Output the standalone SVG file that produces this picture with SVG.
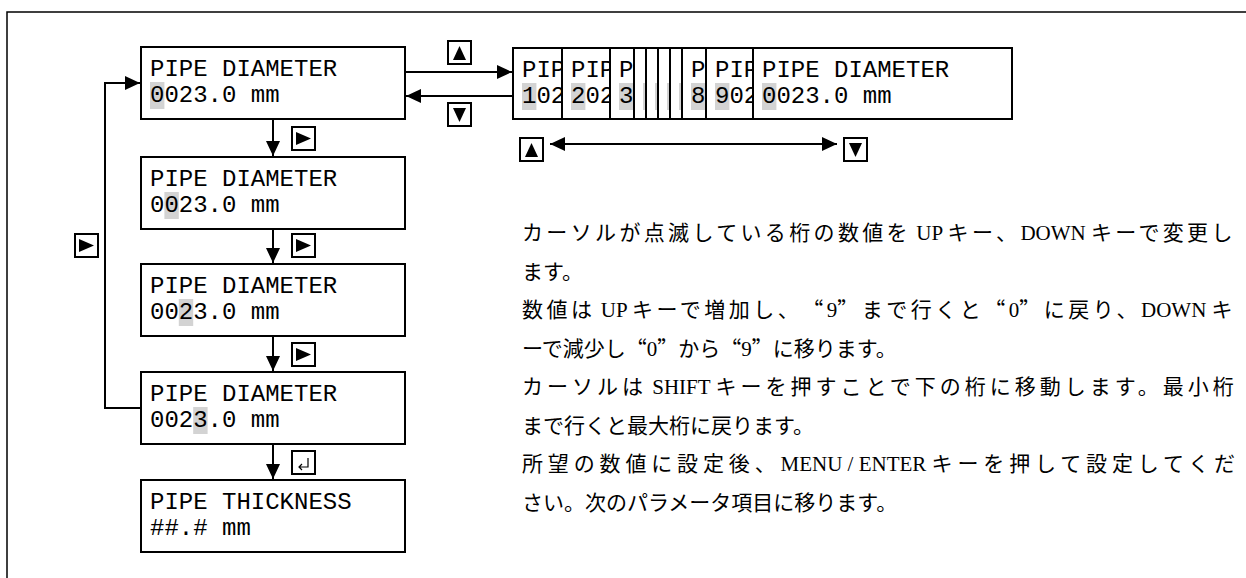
<svg xmlns="http://www.w3.org/2000/svg" width="1246" height="578" viewBox="0 0 1246 578">
<style>
.box{fill:#fff;stroke:#000;stroke-width:2}
.lcd{font-family:"Liberation Mono","Courier New",monospace;font-size:24px;fill:#000}
.hl{fill:#d3d3d3}
.conn{stroke:#000;stroke-width:2;fill:none}
.jp{font-family:"Liberation Serif","Noto Sans CJK JP",serif;font-size:21px;fill:#000}
.cj{font-family:"Noto Sans CJK JP","Liberation Serif",sans-serif;font-feature-settings:"fwid"}
.j1{letter-spacing:3.35px}
.j3{letter-spacing:3.5px}
.j5{letter-spacing:4.0px}
.j7{letter-spacing:4.85px}
.kb{fill:#fff;stroke:#000;stroke-width:2}
</style>
<defs>
<marker id="ah" viewBox="0 0 15 14" refX="15" refY="7" markerWidth="15" markerHeight="14" markerUnits="userSpaceOnUse" orient="auto-start-reverse"><path d="M0,0 L15,7 L0,14 z" fill="#000"/></marker>
<g id="kUp"><rect class="kb" x="1" y="1" width="23" height="23"/><path d="M12.5,6 L19,20 L6,20 z" fill="#000"/></g>
<g id="kDown"><rect class="kb" x="1" y="1" width="23" height="23"/><path d="M6,6 L19,6 L12.5,20 z" fill="#000"/></g>
<g id="kRight"><rect class="kb" x="1" y="1" width="23" height="23"/><path d="M5,6 L20,12.5 L5,19 z" fill="#000"/></g>
<g id="kEnter"><rect class="kb" x="1" y="1" width="23" height="23"/><path d="M17,8 V17 H8 M11,14 L8,17 L11,20" fill="none" stroke="#000" stroke-width="1.2"/></g>
</defs>
<rect x="7" y="12" width="1300" height="620" fill="none" stroke="#000" stroke-width="1.5"/>

<g id="connectors">
<path class="conn" d="M273,120 V156" marker-end="url(#ah)"/>
<path class="conn" d="M273,230 V263" marker-end="url(#ah)"/>
<path class="conn" d="M273,337 V371" marker-end="url(#ah)"/>
<path class="conn" d="M273,445 V479" marker-end="url(#ah)"/>
<path class="conn" d="M141,408 H105 V83 H140" marker-end="url(#ah)"/>
<path class="conn" d="M406,72 H512" marker-end="url(#ah)"/>
<path class="conn" d="M512,96 H406" marker-end="url(#ah)"/>
<path class="conn" d="M550,144 H837" marker-start="url(#ah)" marker-end="url(#ah)"/>
<use href="#kRight" x="291" y="126"/>
<use href="#kRight" x="291" y="233"/>
<use href="#kRight" x="291" y="342"/>
<use href="#kEnter" x="291" y="450"/>
<use href="#kRight" x="74" y="233"/>
<use href="#kUp" x="447" y="40"/>
<use href="#kDown" x="447" y="102"/>
<use href="#kUp" x="519" y="137"/>
<use href="#kDown" x="843" y="137"/>
</g>

<g id="node1">
<rect class="box" x="141" y="47" width="264" height="72"/>
<rect class="hl" x="150" y="82" width="14.4" height="27"/>
<text class="lcd" x="150" y="76">PIPE DIAMETER</text>
<text class="lcd" x="150" y="102">0023.0 mm</text>
</g>
<g id="node2">
<rect class="box" x="141" y="157" width="264" height="72"/>
<rect class="hl" x="164.4" y="192" width="14.4" height="27"/>
<text class="lcd" x="150" y="186">PIPE DIAMETER</text>
<text class="lcd" x="150" y="212">0023.0 mm</text>
</g>
<g id="node3">
<rect class="box" x="141" y="264" width="264" height="72"/>
<rect class="hl" x="178.8" y="299" width="14.4" height="27"/>
<text class="lcd" x="150" y="293">PIPE DIAMETER</text>
<text class="lcd" x="150" y="319">0023.0 mm</text>
</g>
<g id="node4">
<rect class="box" x="141" y="372" width="264" height="72"/>
<rect class="hl" x="193.2" y="407" width="14.4" height="27"/>
<text class="lcd" x="150" y="401">PIPE DIAMETER</text>
<text class="lcd" x="150" y="427">0023.0 mm</text>
</g>
<g id="node5">
<rect class="box" x="141" y="480" width="264" height="72"/>
<text class="lcd" x="150" y="509">PIPE THICKNESS</text>
<text class="lcd" x="150" y="535">##.# mm</text>
</g>

<g id="stack">
<g id="panel1"><rect class="box" x="513" y="48" width="499" height="71"/><rect class="hl" x="522" y="83" width="14.4" height="27"/><text class="lcd" x="522" y="77">PIP</text><text class="lcd" x="522" y="103">102</text></g>
<g id="panel2"><rect class="box" x="562" y="48" width="450" height="71"/><rect class="hl" x="571" y="83" width="14.4" height="27"/><text class="lcd" x="571" y="77">PIP</text><text class="lcd" x="571" y="103">202</text></g>
<g id="panel3"><rect class="box" x="610" y="48" width="402" height="71"/><rect class="hl" x="619" y="83" width="14.4" height="27"/><text class="lcd" x="619" y="77">P</text><text class="lcd" x="619" y="103">3</text></g>
<g id="panel4"><rect class="box" x="634" y="48" width="378" height="71"/><rect class="hl" x="643" y="83" width="14.4" height="27"/></g>
<g id="panel5"><rect class="box" x="646" y="48" width="366" height="71"/><rect class="hl" x="655" y="83" width="14.4" height="27"/></g>
<g id="panel6"><rect class="box" x="658" y="48" width="354" height="71"/><rect class="hl" x="667" y="83" width="14.4" height="27"/></g>
<g id="panel7"><rect class="box" x="670" y="48" width="342" height="71"/><rect class="hl" x="679" y="83" width="14.4" height="27"/></g>
<g id="panel8"><rect class="box" x="682" y="48" width="330" height="71"/><rect class="hl" x="691" y="83" width="14.4" height="27"/><text class="lcd" x="691" y="77">P</text><text class="lcd" x="691" y="103">8</text></g>
<g id="panel9"><rect class="box" x="706" y="48" width="306" height="71"/><rect class="hl" x="715" y="83" width="14.4" height="27"/><text class="lcd" x="715" y="77">PIP</text><text class="lcd" x="715" y="103">902</text></g>
<g id="panel10"><rect class="box" x="753" y="48" width="259" height="71"/><rect class="hl" x="762" y="83" width="14.4" height="27"/><text class="lcd" x="762" y="77">PIPE DIAMETER</text><text class="lcd" x="762" y="103">0023.0 mm</text></g>
</g>

<g id="description">
<text class="jp" x="522" y="240"><tspan class="cj j1">カーソルが点滅している桁の数値を</tspan> UP <tspan class="cj j1">キー、</tspan>DOWN <tspan class="cj j1">キーで変更し</tspan></text>
<text class="jp" x="522" y="279"><tspan class="cj">ます。</tspan></text>
<text class="jp" x="522" y="317"><tspan class="cj j3">数値は</tspan> UP <tspan class="cj j3">キーで増加し、“</tspan>9<tspan class="cj j3">”まで行くと“</tspan>0<tspan class="cj j3">”に戻り、</tspan>DOWN <tspan class="cj j3">キ</tspan></text>
<text class="jp" x="522" y="356"><tspan class="cj">ーで減少し“</tspan>0<tspan class="cj">”から“</tspan>9<tspan class="cj">”に移ります。</tspan></text>
<text class="jp" x="522" y="394"><tspan class="cj j5">カーソルは</tspan> SHIFT <tspan class="cj j5">キーを押すことで下の桁に移動します。最小桁</tspan></text>
<text class="jp" x="522" y="433"><tspan class="cj">まで行くと最大桁に戻ります。</tspan></text>
<text class="jp" x="522" y="471"><tspan class="cj j7">所望の数値に設定後、</tspan>MENU / ENTER <tspan class="cj j7">キーを押して設定してくだ</tspan></text>
<text class="jp" x="522" y="510"><tspan class="cj">さい。次のパラメータ項目に移ります。</tspan></text>
</g>
</svg>
